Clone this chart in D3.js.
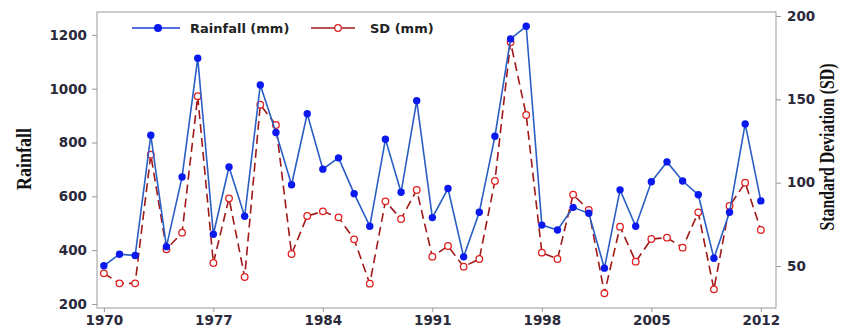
<!DOCTYPE html>
<html>
<head>
<meta charset="utf-8">
<script src="https://cdn.jsdelivr.net/npm/d3@7"></script>
<style>
  body { margin: 0; background: #fff; }
  .tick text { font-family: "DejaVu Sans", Verdana, sans-serif; font-weight: bold; font-size: 13.5px; fill: #2a2a3a; }
  .axis path, .axis line { stroke: #999; }
  .ttl { font-family: "Liberation Serif", "Times New Roman", serif; font-weight: bold; font-size: 21px; fill: #111; }
  .leg { font-family: "DejaVu Sans", Verdana, sans-serif; font-weight: bold; font-size: 13px; fill: #222; }
</style>
</head>
<body>
<script>
const years = d3.range(1970, 2013)
const rainfall = [342, 385, 380, 827, 413, 672, 1113, 459, 709, 526,
  1014, 837, 643, 907, 701, 743, 610, 489, 812, 615,
  955, 521, 629, 375, 541, 823, 1185, 1232, 493, 475,
  559, 537, 333, 624, 489, 654, 728, 657, 606, 370,
  541, 869, 583]
const sd = [45.6, 39.6, 39.6, 116.8, 60, 70, 151.9, 51.8, 90.6, 43.4,
  146.8, 134.6, 57.2, 80, 82.8, 79.2, 66, 39.4, 88.8, 78.2,
  95.6, 55.6, 62, 49.6, 54.2, 101, 184.3, 140.6, 58, 54.2,
  92.8, 83.6, 33.6, 73.6, 52.6, 66.2, 67, 61, 82.2, 36,
  86, 100, 71.6]
const xTicks = [1970, 1977, 1984, 1991, 1998, 2005, 2012]
const leftTicks = [200, 400, 600, 800, 1000, 1200]
const rightTicks = [50, 100, 150, 200]

const width = 848, height = 331
const margin = {left: 97, right: 72, top: 12, bottom: 23}

const svg = d3.select('body').append('svg').attr('width', width).attr('height', height)

const x = d3.scaleLinear().domain([1969.56, 2012.97]).range([margin.left, width - margin.right])
const yL = d3.scaleLinear().domain([185, 1285]).range([height - margin.bottom, margin.top])
const yR = d3.scaleLinear().domain([24.8, 202.4]).range([height - margin.bottom, margin.top])

// frame
svg.append('rect')
  .attr('x', margin.left).attr('y', margin.top)
  .attr('width', width - margin.right - margin.left)
  .attr('height', height - margin.bottom - margin.top)
  .attr('fill', 'none').attr('stroke', '#999')

const xAxis = svg.append('g').attr('class', 'axis')
  .attr('transform', 'translate(0,' + (height - margin.bottom) + ')')
  .call(d3.axisBottom(x).tickValues(xTicks).tickFormat(d3.format('d')).tickSize(4).tickPadding(3))
xAxis.select('.domain').remove()

const leftAxis = svg.append('g').attr('class', 'axis')
  .attr('transform', 'translate(' + margin.left + ',0)')
  .call(d3.axisLeft(yL).tickValues(leftTicks).tickFormat(d3.format('d')).tickSize(5).tickPadding(5))
leftAxis.select('.domain').remove()

const rightAxis = svg.append('g').attr('class', 'axis')
  .attr('transform', 'translate(' + (width - margin.right) + ',0)')
  .call(d3.axisRight(yR).tickValues(rightTicks).tickFormat(d3.format('d')).tickSize(5).tickPadding(6))
rightAxis.select('.domain').remove()

// axis titles (the original uses a narrow serif, so squeeze to its length)
svg.append('text').attr('class', 'ttl')
  .attr('transform', 'translate(31,159) rotate(-90)')
  .attr('text-anchor', 'middle')
  .attr('textLength', 62).attr('lengthAdjust', 'spacingAndGlyphs')
  .text('Rainfall')
svg.append('text').attr('class', 'ttl')
  .attr('transform', 'translate(834,147) rotate(-90)')
  .attr('text-anchor', 'middle')
  .attr('textLength', 167).attr('lengthAdjust', 'spacingAndGlyphs')
  .text('Standard Deviation (SD)')

// SD series
const sdLine = d3.line().x((d, i) => x(years[i])).y(d => yR(d))
svg.append('path').datum(sd)
  .attr('d', sdLine)
  .attr('fill', 'none').attr('stroke', '#a01818').attr('stroke-width', 1.6)
  .attr('stroke-dasharray', '9,5')
svg.selectAll('.sdpt').data(sd).enter().append('circle')
  .attr('class', 'sdpt')
  .attr('cx', (d, i) => x(years[i])).attr('cy', d => yR(d))
  .attr('r', 3.3).attr('fill', '#fff').attr('stroke', '#e02020').attr('stroke-width', 1.3)

// rainfall series
const rLine = d3.line().x((d, i) => x(years[i])).y(d => yL(d))
svg.append('path').datum(rainfall)
  .attr('d', rLine)
  .attr('fill', 'none').attr('stroke', '#2a5ec4').attr('stroke-width', 1.6)
svg.selectAll('.rpt').data(rainfall).enter().append('circle')
  .attr('class', 'rpt')
  .attr('cx', (d, i) => x(years[i])).attr('cy', d => yL(d))
  .attr('r', 3.7).attr('fill', '#0a1aee')

// legend
const leg = svg.append('g')
leg.append('line').attr('x1', 132).attr('x2', 180).attr('y1', 28).attr('y2', 28)
  .attr('stroke', '#1a3ed4').attr('stroke-width', 1.6)
leg.append('circle').attr('cx', 158).attr('cy', 28).attr('r', 4).attr('fill', '#0a1aee')
leg.append('text').attr('class', 'leg').attr('x', 190).attr('y', 32.5).text('Rainfall (mm)')
leg.append('line').attr('x1', 311).attr('x2', 355).attr('y1', 28).attr('y2', 28)
  .attr('stroke', '#a01818').attr('stroke-width', 1.6)
leg.append('circle').attr('cx', 338).attr('cy', 28).attr('r', 3.3)
  .attr('fill', '#fff').attr('stroke', '#e02020').attr('stroke-width', 1.3)
leg.append('text').attr('class', 'leg').attr('x', 370).attr('y', 32.5).text('SD (mm)')
</script>
</body>
</html>
